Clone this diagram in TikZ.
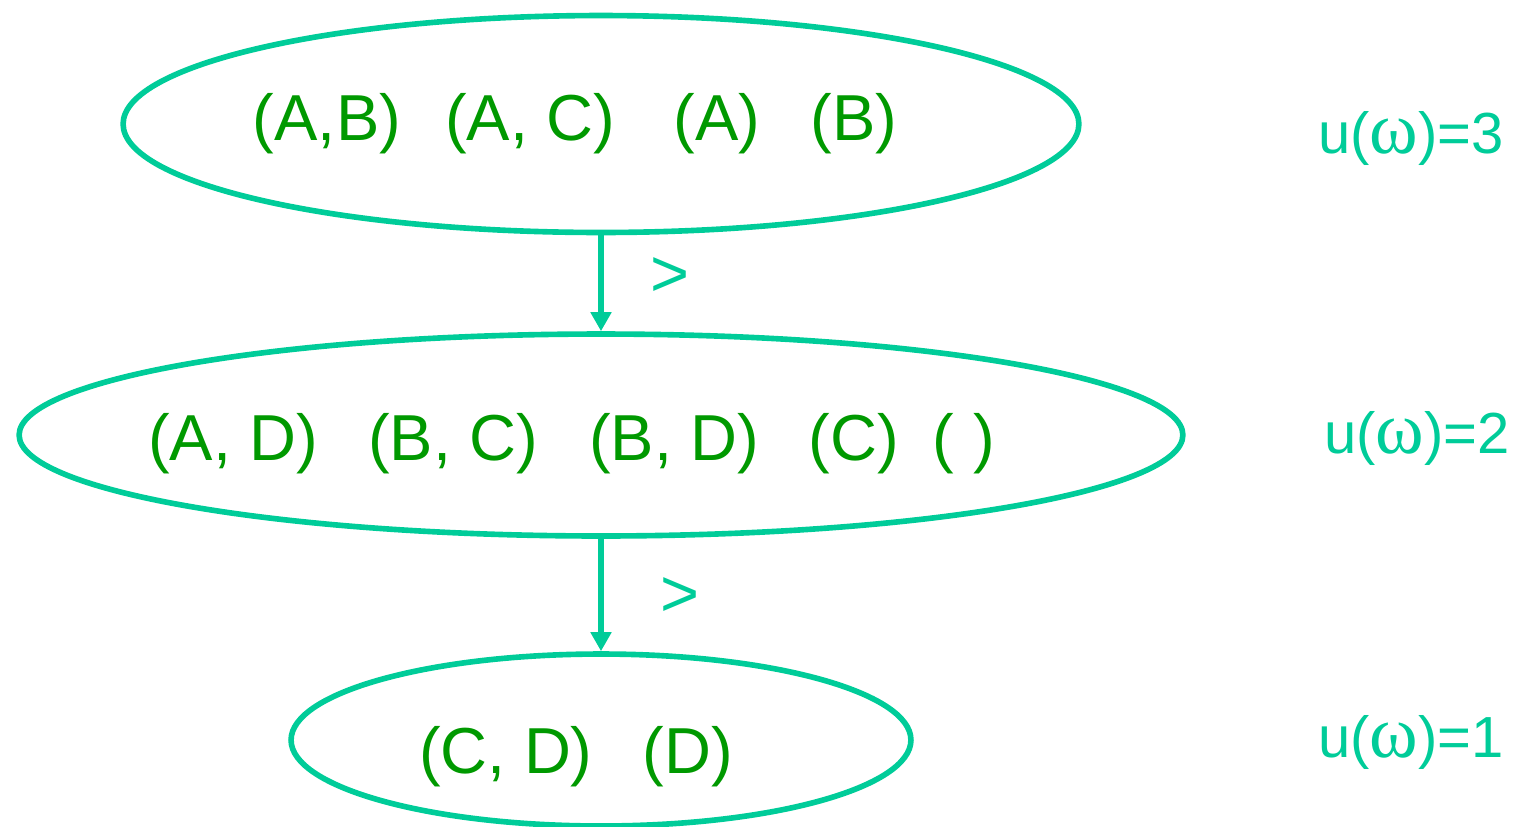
\documentclass[tikz,border=0pt]{standalone}
\usepackage{fontspec}
\setmainfont{Liberation Sans}
\newfontfamily\omegafont{Liberation Serif}
\usetikzlibrary{shapes.geometric,arrows.meta}
\definecolor{teal}{RGB}{0,204,153}
\definecolor{tuplegreen}{RGB}{0,153,0}
\newcommand{\omg}{{\omegafont\fontsize{42}{44}\selectfont ω}}

\begin{document}
\begin{tikzpicture}[
x=0.02cm, y=-0.02cm,
level/.style={ellipse, draw=teal, line width=3.2pt, inner sep=0pt},
tuple/.style={anchor=base, inner sep=0pt, text=tuplegreen, font=\fontsize{37}{40}\selectfont},
util/.style={anchor=base, inner sep=0pt, text=teal, font=\fontsize{33}{36}\selectfont},
order/.style={inner sep=0pt, text=teal, font=\fontsize{38}{40}\selectfont},
conn/.style={draw=teal, line width=3.2pt, -{Triangle[width=0.4cm,length=0.38cm]}},
]
\useasboundingbox (0,0) rectangle (1531,826);

% Ebenen
\node[level, minimum width=19.12cm, minimum height=4.34cm] (top) at (601,124) {};
\node[level, minimum width=23.28cm, minimum height=4.04cm] (mid) at (601,435) {};
\node[level, minimum width=12.4cm, minimum height=3.44cm] (bot) at (601,740) {};

% Tupel
\node[tuple] (ab) at (327,140) {(A,B)};
\node[tuple] (ac) at (530,140) {(A, C)};
\node[tuple] (a) at (717,140) {(A)};
\node[tuple] (b) at (854,140) {(B)};

\node[tuple] (ad) at (233,460) {(A, D)};
\node[tuple] (bc) at (453,460) {(B, C)};
\node[tuple] (bd) at (674,460) {(B, D)};
\node[tuple] (c) at (854,460) {(C)};
\node[tuple] (empty) at (964,460) {(\hspace{0.3em})};

\node[tuple] (cd) at (506,773) {(C, D)};
\node[tuple] (d) at (688,773) {(D)};

% Nutzen
\node[util] (u3) at (1411,153) {u(\omg)=3};
\node[util] (u2) at (1417,453) {u(\omg)=2};
\node[util] (u1) at (1411,757) {u(\omg)=1};

% Pfeile
\draw[conn] (top.south) -- (mid.north);
\draw[conn] (mid.south) -- (bot.north);
\node[order] (gt1) at (670,277) {>};
\node[order] (gt2) at (680,597) {>};

\end{tikzpicture}
\end{document}
